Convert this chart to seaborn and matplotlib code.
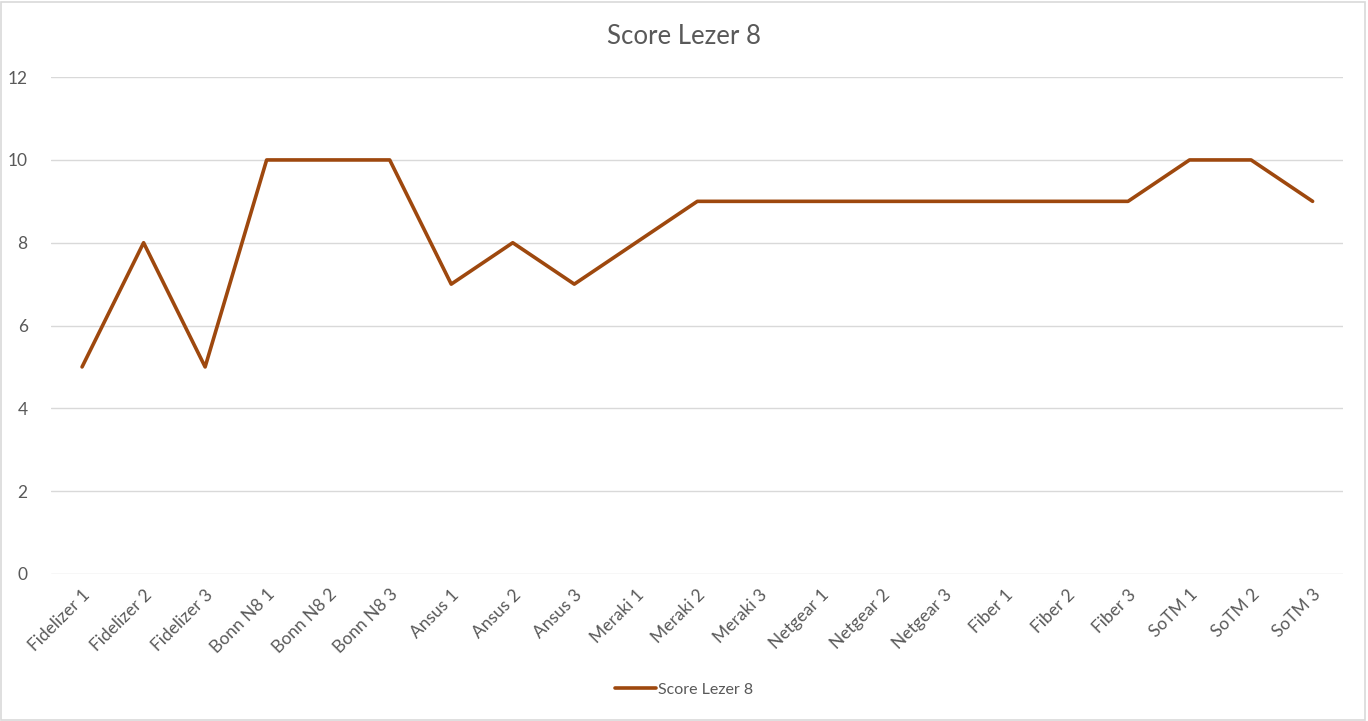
import pandas as pd
import seaborn as sns
import matplotlib.pyplot as plt
from matplotlib.patches import Rectangle

# data
labels = ['Fidelizer 1', 'Fidelizer 2', 'Fidelizer 3',
          'Bonn N8 1', 'Bonn N8 2', 'Bonn N8 3',
          'Ansus 1', 'Ansus 2', 'Ansus 3',
          'Meraki 1', 'Meraki 2', 'Meraki 3',
          'Netgear 1', 'Netgear 2', 'Netgear 3',
          'Fiber 1', 'Fiber 2', 'Fiber 3',
          'SoTM 1', 'SoTM 2', 'SoTM 3']
scores = [5, 8, 5, 10, 10, 10, 7, 8, 7, 8, 9, 9, 9, 9, 9, 9, 9, 9, 10, 10, 9]
series_name = 'Score Lezer 8'

df = pd.DataFrame({'label': labels, 'score': scores})
df['pos'] = range(len(df))

sns.set_style('white')
plt.rcParams['font.family'] = ['Lato', 'DejaVu Sans']

fig = plt.figure(figsize=(13.68, 7.21), dpi=100)
ax = fig.add_axes([0.0375, 0.204, 0.9445, 0.689])

sns.lineplot(data=df, x='pos', y='score', color='#9E480E', linewidth=2.6,
             label=series_name, ax=ax, legend=False)

ax.set_xlim(-0.5, len(labels) - 0.5)
ax.set_ylim(0, 12)
ax.set_yticks(range(0, 13, 2))
ax.set_xticks(df['pos'])
ax.set_xticklabels(labels, rotation=45, ha='right', rotation_mode='anchor')
ax.tick_params(axis='both', colors='#595959', labelsize=12.5, length=0)
ax.tick_params(axis='x', pad=9)
ax.tick_params(axis='y', pad=17)
ax.yaxis.grid(True, color='#D9D9D9', linewidth=1)
ax.xaxis.grid(False)
for s in ax.spines.values():
    s.set_visible(False)
ax.set_xlabel('')
ax.set_ylabel('')

fig.suptitle(series_name, y=0.95, fontsize=18.5, color='#595959', va='center')

handles = ax.get_lines()[:1]
fig.legend(handles, [series_name], loc='center', bbox_to_anchor=(0.5, 0.043),
           frameon=False, fontsize=11.5, labelcolor='#595959',
           handlelength=2.6, handletextpad=0.1)

fig.patches.append(Rectangle((0.001, 0.001), 0.997, 0.996, transform=fig.transFigure,
                             fill=False, edgecolor='#D9D9D9', linewidth=1.2))

fig.savefig('out.png', dpi=100, facecolor='white')
